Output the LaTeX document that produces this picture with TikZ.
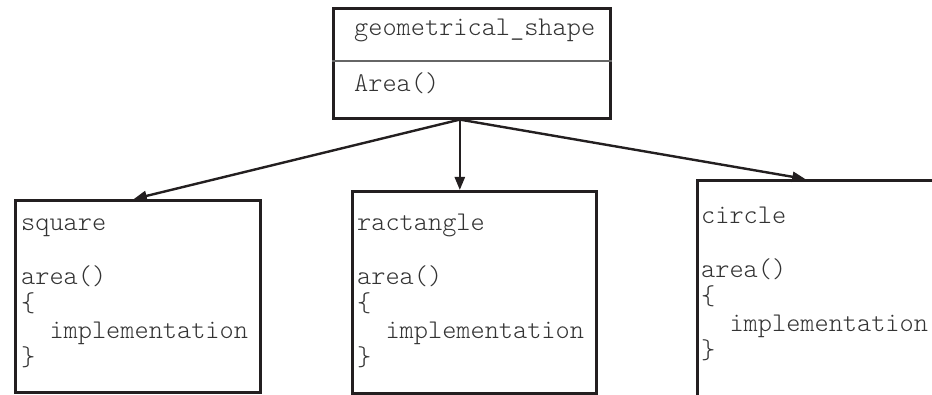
\documentclass[tikz,border=0pt]{standalone}
\usepackage{fontspec}
\setmonofont{Latin Modern Mono Light}
\usetikzlibrary{arrows.meta}
\definecolor{inkline}{HTML}{231F20}
\definecolor{inktext}{HTML}{333333}

\begin{document}
\begin{tikzpicture}[x=1pt,y=-1pt,>={Triangle[length=13pt,width=10pt]},
	line join=miter,
	box/.style={draw=inkline, line width=2.6pt, rectangle, inner sep=0pt, anchor=north west},
	code/.style={inner sep=0pt, text=inktext, align=left,
		font=\ttfamily\fontsize{27}{27}\selectfont},
	link/.style={->, draw=inkline, line width=2.4pt}]
	\clip (0,0) rectangle (932,395);
	\useasboundingbox (0,0) rectangle (932,395);
	% base class
	\node[box, minimum width=277pt, minimum height=110pt] (shape) at (332,7) {};
	\draw[black!60, line width=1.1pt] (shape.west |- 0,61) -- (shape.east |- 0,61);
	\node[code, anchor=base west] (shapename) at (354,36) {geometrical\_shape};
	\node[code, anchor=base west] (shapearea) at (354,92) {Area()};
	\coordinate (fork) at ([xshift=-12pt]shape.south);
	% derived classes
	\node[box, minimum width=245pt, minimum height=192pt] (square) at (14,199) {};
	\node[box, minimum width=244pt, minimum height=202pt] (rect) at (351,190) {};
	\node[box, minimum width=270pt, minimum height=240pt] (circle) at (696,179) {};
	\node[code, anchor=north west] (squaretxt) at (21,211.1)
		{\strut square\\ \\area()\\\{\\ \ \ implementation\\\}};
	\node[code, anchor=north west] (recttxt) at (357,211.1)
		{\strut ractangle\\ \\area()\\\{\\ \ \ implementation\\\}};
	\node[code, anchor=north west] (circletxt) at (701,204.1)
		{\strut circle\\ \\area()\\\{\\ \ \ implementation\\\}};
	% inheritance arrows
	\draw[link] (fork) -- ([xshift=-4pt]square.north);
	\draw[link] (fork) -- (fork |- rect.north);
	\draw[link] (fork) -- ([xshift=-27pt]circle.north);
\end{tikzpicture}
\end{document}
